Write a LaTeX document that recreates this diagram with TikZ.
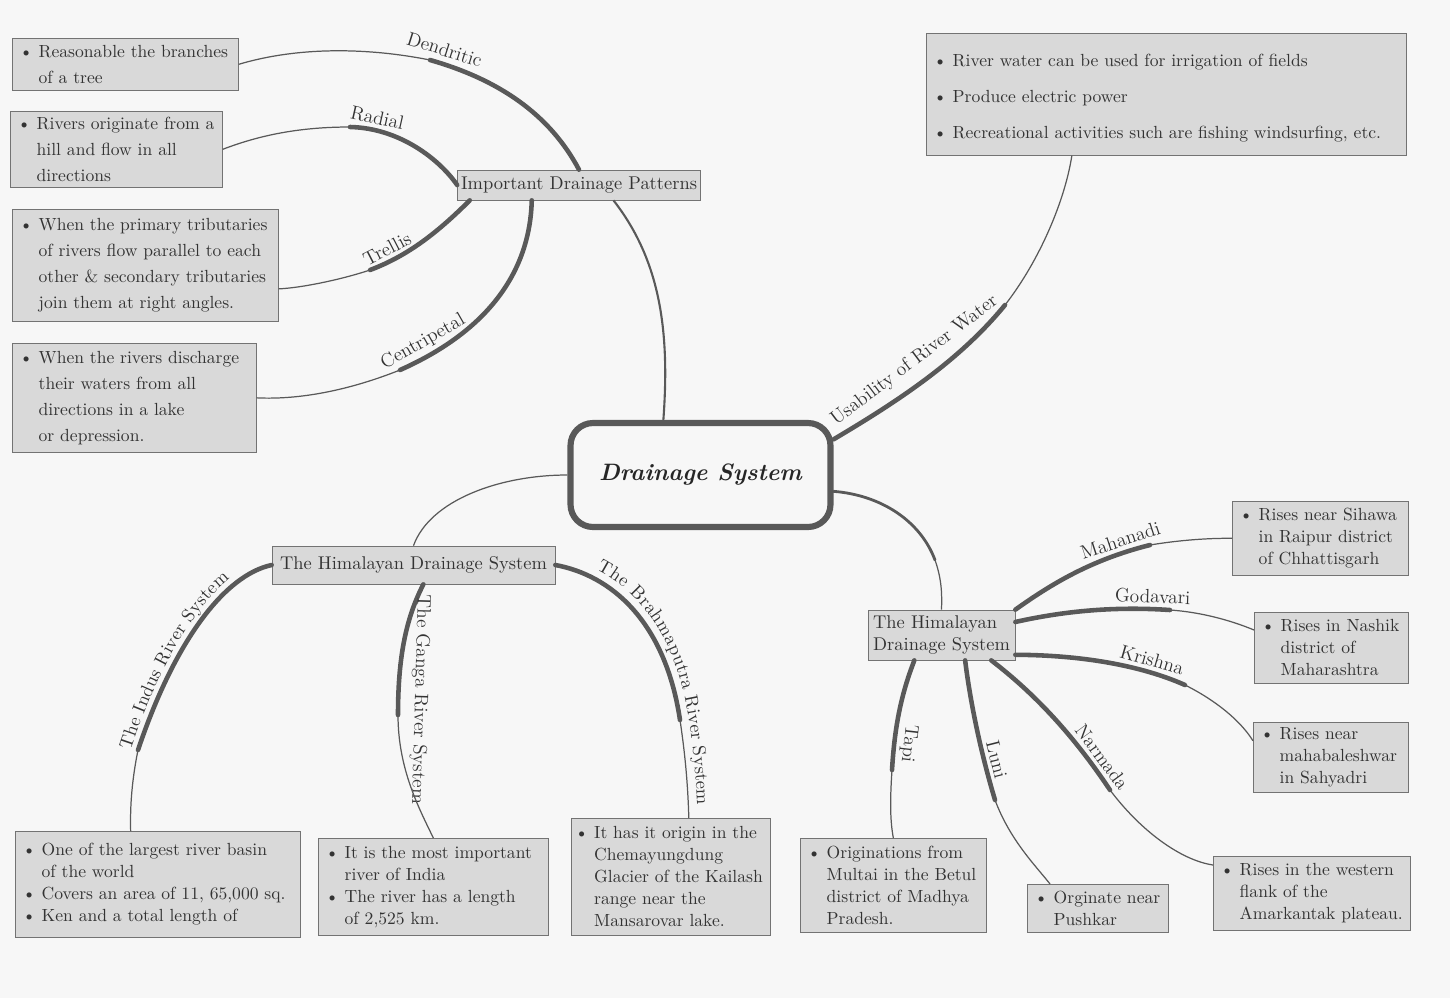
\documentclass[tikz,border=0pt]{standalone}
\usepackage{tikz}
\usetikzlibrary{decorations.text}

\newcommand{\itm}{\makebox[1.1em][l]{\textbullet}}
\newcommand{\hng}{\hspace*{1.1em}}

\begin{document}
\begin{tikzpicture}[x=0.02cm, y=-0.02cm,
  box/.style={draw=black!55, fill=black!15, anchor=north west, align=left, inner xsep=4pt, inner ysep=2pt, text=black!80, font=\fontsize{10}{14.8}\selectfont},
  tight/.style={font=\fontsize{10}{12.5}\selectfont},
  head/.style={draw=black!55, fill=black!15, align=left, inner sep=2pt, text=black!80, font=\fontsize{10.5}{12.5}\selectfont},
  hub/.style={draw=black!65, line width=3.5pt, rounded corners=0.45cm, minimum width=5.2cm, minimum height=2.08cm, text=black!85, font=\fontsize{13.5}{16}\bfseries\itshape\selectfont},
  branch/.style={draw=black!65, line width=2.6pt, line cap=round},
  twig/.style={draw=black!65, line width=0.7pt},
  lbl/.style={sloped, above=2pt, text=black!80, inner sep=0pt, font=\fontsize{11}{12}\selectfont},
  bent/.style={decorate, decoration={text along path, raise=4pt, text color=black!80, text={|\fontsize{10.5}{12}\selectfont|#1}}}]
\fill[black!3] (0,0) rectangle (1450,998);
\useasboundingbox (0,0) rectangle (1450,998);

% centre and the two head nodes
\node[hub] (ds) at (700.5,475) {Drainage System};
\node[head, minimum width=4.84cm, minimum height=0.6cm] (pat) at (579,185) {Important Drainage Patterns};
\node[head, minimum width=5.66cm, minimum height=0.76cm] (him) at (413.5,565) {The Himalayan Drainage System};
\node[head, minimum width=2.94cm, minimum height=1.0cm] (pen) at (941.5,635) {The Himalayan\\Drainage System};

% drainage patterns
\node[box, text width=4.52cm-8pt, minimum height=1.04cm] (dend) at (12,38) {\itm Reasonable the branches\\\hng of a tree};
\node[box, text width=4.24cm-8pt, minimum height=1.52cm] (rad) at (10,111) {\itm Rivers originate from a\\\hng hill and flow in all\\\hng directions};
\node[box, text width=5.32cm-8pt, minimum height=2.24cm] (trel) at (12,209) {\itm When the primary tributaries\\\hng of rivers flow parallel to each\\\hng other \& secondary tributaries\\\hng join them at right angles.};
\node[box, text width=4.88cm-8pt, minimum height=2.18cm] (cent) at (12,343) {\itm When the rivers discharge\\\hng their waters from all\\\hng directions in a lake\\\hng or depression.};

% usability
\node[box, text width=9.6cm-8pt, minimum height=2.44cm, font=\fontsize{10}{20.5}\selectfont] (use) at (926,33) {\rule{0pt}{11pt}\itm River water can be used for irrigation of fields\\\itm Produce electric power\\\itm Recreational activities such are fishing windsurfing, etc.};

% himalayan rivers
\node[box, tight, text width=5.7cm-8pt, minimum height=2.12cm] (indus) at (15,831) {\itm One of the largest river basin\\\hng of the world\\\itm Covers an area of 11, 65,000 sq.\\\itm Ken and a total length of};
\node[box, tight, text width=4.6cm-8pt, minimum height=1.94cm] (ganga) at (318,838) {\itm It is the most important\\\hng river of India\\\itm The river has a length\\\hng of 2,525 km.};
\node[box, tight, inner xsep=2pt, text width=3.98cm-4pt, minimum height=2.34cm] (brahma) at (571,818) {\itm It has it origin in the\\\hng Chemayungdung\\\hng Glacier of the Kailash\\\hng range near the\\\hng Mansarovar lake.};

% peninsular rivers
\node[box, tight, text width=3.72cm-8pt, minimum height=1.88cm] (tapi) at (800,838) {\itm Originations from\\\hng Multai in the Betul\\\hng district of Madhya\\\hng Pradesh.};
\node[box, tight, text width=2.82cm-8pt, minimum height=0.96cm] (luni) at (1027,884) {\itm Orginate near\\\hng Pushkar};
\node[box, tight, text width=3.52cm-8pt, minimum height=1.48cm] (mah) at (1232,501) {\itm Rises near Sihawa\\\hng in Raipur district\\\hng of Chhattisgarh};
\node[box, tight, text width=3.08cm-8pt, minimum height=1.42cm] (god) at (1254,612) {\itm Rises in Nashik\\\hng district of\\\hng Maharashtra};
\node[box, tight, text width=3.1cm-8pt, minimum height=1.4cm] (kri) at (1253,722) {\itm Rises near\\\hng mahabaleshwar\\\hng in Sahyadri};
\node[box, tight, text width=3.94cm-8pt, minimum height=1.48cm] (nar) at (1213,856) {\itm Rises in the western\\\hng flank of the\\\hng Amarkantak plateau.};

% junction points, thick part ends here
\coordinate (jd) at (430,60);
\coordinate (jr) at (350,127);
\coordinate (jt) at (370,270);
\coordinate (jc) at (400,370);
\coordinate (ju) at (1005,305);
\coordinate (ji) at (138,750);
\coordinate (jg) at (398,715);
\coordinate (jb) at (680,720);
\coordinate (jp) at (935,560);
\coordinate (jm) at (1150,545);
\coordinate (jo) at (1170,610);
\coordinate (jk) at (1185,685);
\coordinate (jn) at (1110,790);
\coordinate (jta) at (892,770);
\coordinate (jl) at (995,800);

% centre to heads
\draw[twig, line width=1.2pt] (ds.124) .. controls (670,330) and (660,260) .. (pat.-24);
\draw[twig] (ds.west) .. controls (500,475) and (430,500) .. (him.north);
\draw[branch] (ds.15) .. controls (900,400) and (960,360) .. node[lbl, pos=0.5, above=4pt] (luse) {Usability of River Water} (ju);
\draw[twig] (ju) .. controls (1040,260) and (1065,200) .. (use.213);
\draw[branch, line width=1.6pt] (ds.-7) .. controls (880,495) and (920,520) .. (jp);
\draw[twig] (jp) .. controls (942,580) and (942,595) .. (pen.north);

% patterns
\draw[branch] (pat.north) .. controls (550,115) and (500,80) .. node[lbl, pos=0.95, above=1pt] (ldend) {Dendritic} (jd);
\draw[twig] (jd) .. controls (370,48) and (300,46) .. (dend.east);
\draw[branch] (pat.west) .. controls (440,160) and (400,128) .. node[lbl, pos=0.83] (lrad) {Radial} (jr);
\draw[twig] (jr) .. controls (300,127) and (260,135) .. (rad.east);
\draw[branch] (pat.188) .. controls (440,230) and (410,255) .. node[lbl, pos=0.8] (ltrel) {Trellis} (jt);
\draw[twig] (jt) .. controls (340,280) and (300,288) .. (trel.-10);
\draw[branch] (pat.198) .. controls (530,270) and (490,330) .. node[lbl, pos=0.88] (lcent) {Centripetal} (jc);
\draw[twig] (jc) .. controls (350,390) and (300,400) .. (cent.east);

% himalayan
\draw[branch] (him.west) .. controls (225,575) and (175,640) .. (ji);
\draw[twig] (ji) .. controls (132,780) and (130,805) .. (indus.117);
\path[bent={The Indus River System}, decoration={text align={right, right indent=24pt}}] (indus.117) .. controls (130,805) and (132,780) .. (ji) .. controls (175,640) and (225,575) .. (him.west);
\draw[branch] (him.-63) .. controls (405,620) and (398,660) .. node[lbl, pos=0.9, allow upside down, above=4pt] (lganga) {The Ganga River System} (jg);
\draw[twig] (jg) .. controls (398,770) and (420,810) .. (ganga.north);
\draw[branch] (him.east) .. controls (610,575) and (665,620) .. (jb);
\draw[twig] (jb) .. controls (686,760) and (688,790) .. (brahma.73);
\path[bent={The Brahmaputra River System}, decoration={raise=5pt, text align={left, left indent=22pt}}] (him.east) .. controls (610,575) and (665,620) .. (jb) .. controls (686,760) and (688,790) .. (brahma.73);

% peninsular
\draw[branch] (pen.north east) .. controls (1050,585) and (1090,560) .. node[lbl, pos=0.85] (lmah) {Mahanadi} (jm);
\draw[twig] (jm) .. controls (1180,540) and (1210,538) .. (mah.west);
\draw[branch] (pen.10) .. controls (1060,612) and (1110,606) .. node[lbl, pos=0.9] (lgod) {Godavari} (jo);
\draw[twig] (jo) .. controls (1200,612) and (1230,620) .. (god.167);
\draw[branch] (pen.-15) .. controls (1080,655) and (1140,665) .. node[lbl, pos=0.75] (lkri) {Krishna} (jk);
\draw[twig] (jk) .. controls (1215,700) and (1240,720) .. (kri.168);
\draw[branch] (pen.-27) .. controls (1030,690) and (1070,730) .. node[lbl, pos=0.85] (lnar) {Narmada} (jn);
\draw[twig] (jn) .. controls (1140,830) and (1180,860) .. (nar.164);
\draw[branch] (pen.223) .. controls (903,690) and (895,720) .. node[lbl, pos=0.8, allow upside down] (ltapi) {Tapi} (jta);
\draw[twig] (jta) .. controls (890,800) and (890,820) .. (tapi.north);
\draw[branch] (pen.-47) .. controls (970,700) and (980,750) .. node[lbl, pos=0.75] (lluni) {Luni} (jl);
\draw[twig] (jl) .. controls (1010,840) and (1035,865) .. (luni.153);
\end{tikzpicture}
\end{document}
